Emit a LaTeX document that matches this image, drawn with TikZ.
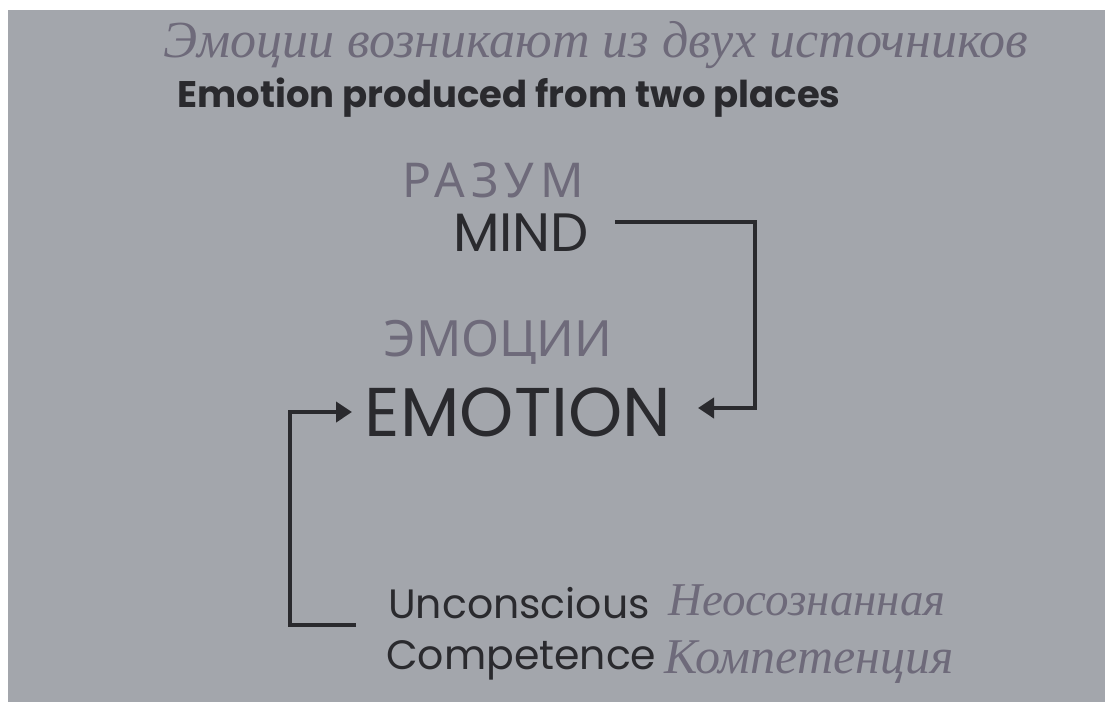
\documentclass[tikz,border=0pt]{standalone}
\usepackage{fontspec}
\usetikzlibrary{arrows.meta}
\newfontfamily\pop{Poppins}
\newfontfamily\hand{Liberation Serif}
\newfontfamily\caps{Noto Sans}
\newfontfamily\capsw[LetterSpace=12]{Noto Sans}
\definecolor{paper}{HTML}{A3A6AC}
\definecolor{ink}{HTML}{2A2A2E}
\definecolor{pencil}{HTML}{6E6A7A}
\tikzset{
  printed/.style={text=ink, inner sep=0pt, font=\pop},
  handtxt/.style={text=pencil, inner sep=0pt},
  link/.style={draw=ink, line width=4pt, -{Triangle[length=16pt,width=20pt]}},
}
\begin{document}
\begin{tikzpicture}[x=1pt,y=-1pt]
\useasboundingbox (0,0) rectangle (1105,702);
\fill[white] (0,0) rectangle (1105,702);
\fill[paper] (8,10) rectangle (1105,702);

\node[handtxt, font=\hand\itshape\fontsize{52}{52}\selectfont] (hw) at (596,45) {Эмоции возникают из двух источников};
\node[printed, font=\pop\bfseries\fontsize{37}{37}\selectfont] (title) at (509,98) {Emotion produced from two places};

\node[handtxt, font=\capsw\fontsize{48}{48}\selectfont] (razum) at (493,180) {РАЗУМ};
\node[printed, font=\pop\fontsize{54}{54}\selectfont] (mind) at (521,233) {MIND};

\node[handtxt, font=\caps\fontsize{50}{50}\selectfont] (emru) at (498,342) {ЭМОЦИИ};
\node[printed, font=\pop\fontsize{69}{69}\selectfont] (emotion) at (518,412) {EMOTION};

\node[printed, font=\pop\fontsize{41}{41}\selectfont, anchor=west] (uncon) at (388,603) {Unconscious};
\node[printed, font=\pop\fontsize{41}{41}\selectfont, anchor=west] (compet) at (386,660) {Competence};
\node[handtxt, font=\hand\itshape\fontsize{47}{47}\selectfont, anchor=west] (neos) at (668,600) {Неосознанная};
\node[handtxt, font=\hand\itshape\fontsize{50}{50}\selectfont, anchor=west] (komp) at (664,662) {Компетенция};

\coordinate (m0) at (615,222);
\coordinate (m1) at (755,222);
\coordinate (m2) at (755,408);
\coordinate (mend) at (698,408);
\draw[link] (m0) -- (m1) -- (m2) -- (mend);

\coordinate (u0) at (356,625);
\coordinate (u1) at (290,625);
\coordinate (u2) at (290,412);
\coordinate (uend) at (352,412);
\draw[link] (u0) -- (u1) -- (u2) -- (uend);
\end{tikzpicture}
\end{document}
